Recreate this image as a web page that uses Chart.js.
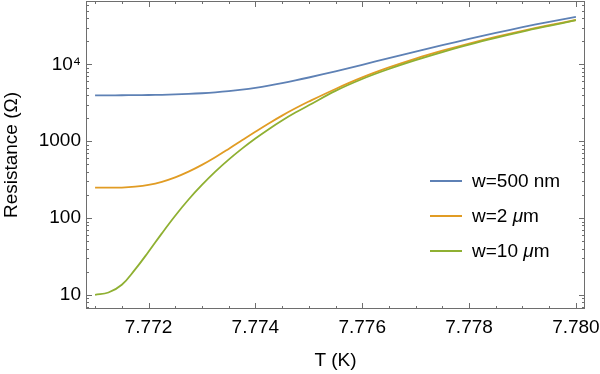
<!DOCTYPE html>
<html>
<head>
<meta charset="utf-8">
<script src="https://cdn.jsdelivr.net/npm/chart.js@4/dist/chart.umd.min.js"></script>
<style>
  html, body { margin: 0; padding: 0; background: #fff; }
  #wrap { width: 600px; height: 374px; }
</style>
</head>
<body>
<div id="wrap"><canvas id="resChart" width="600" height="374"></canvas></div>
<script>
    // Дані
    const temps = [7.771, 7.77125, 7.7715, 7.77175, 7.772, 7.77225, 7.7725, 7.77275, 7.773, 7.77325,
        7.7735, 7.77375, 7.774, 7.77425, 7.7745, 7.77475, 7.775, 7.7755, 7.776, 7.7765,
        7.777, 7.7775, 7.778, 7.7785, 7.779, 7.7795, 7.780];
    const r500nm = [3954, 3957, 3963, 3974, 3992, 4019, 4061, 4123, 4209, 4327,
        4484, 4691, 4956, 5287, 5691, 6176, 6750, 8128, 9886, 12050,
        14655, 17783, 21478, 25704, 30479, 35810, 41687];
    const r2um = [248, 248, 249, 256, 270, 296, 338, 401, 491, 618,
        793, 1026, 1327, 1702, 2153, 2679, 3281, 4786, 6761, 9120,
        11885, 15066, 18707, 22803, 27353, 32359, 37844];
    const r10um = [10, 10.7, 13.5, 21.4, 36.3, 63.1, 107, 174, 269, 401,
        575, 800, 1084, 1435, 1862, 2360, 2931, 4519, 6457, 8710,
        11350, 14454, 18113, 22182, 26730, 31769, 37584];
    const seriesLabels = ['w=500 nm', 'w=2 μm', 'w=10 μm'];
    const seriesColors = ['#5E81B5', '#E19C24', '#8FB032'];
    const xTicks = [7.772, 7.774, 7.776, 7.778, 7.780];
    const yTicks = [10, 100, 1000, 10000];
    const yTickLabels = ['10', '100', '1000', '10⁴'];

    const FONT = '"Liberation Sans", Arial, sans-serif';
    const FSIZE = 19;
    const FRAME = '#6e6e6e';

    function pts(vals) {
        return temps.map((t, i) => ({ x: t, y: vals[i] }));
    }

    // Рамка з внутрішніми поділками (як у Mathematica)
    const frameTicks = {
        id: 'frameTicks',
        afterDatasetsDraw(chart) {
            const { ctx, chartArea: a, scales: { x, y } } = chart;
            ctx.save();
            ctx.strokeStyle = FRAME;
            ctx.lineWidth = 1;
            ctx.strokeRect(a.left + 0.5, a.top + 0.5, a.right - a.left - 1, a.bottom - a.top - 1);
            ctx.beginPath();
            // x: основні і дрібні поділки
            for (let k = 15542; k <= 15560; k++) {
                const v = k * 0.0005;
                const px = Math.round(x.getPixelForValue(v)) + 0.5;
                if (px < a.left || px > a.right) continue;
                const major = xTicks.some(t => Math.abs(t - v) < 1e-7);
                const len = major ? 6 : 3;
                ctx.moveTo(px, a.bottom); ctx.lineTo(px, a.bottom - len);
                ctx.moveTo(px, a.top); ctx.lineTo(px, a.top + len);
            }
            // y: логарифмічні поділки
            for (let d = 0; d <= 4; d++) {
                for (let m = 1; m <= 9; m++) {
                    const v = m * Math.pow(10, d);
                    if (v < y.min || v > y.max) continue;
                    const py = Math.round(y.getPixelForValue(v)) + 0.5;
                    const len = m === 1 ? 6 : 3;
                    ctx.moveTo(a.left, py); ctx.lineTo(a.left + len, py);
                    ctx.moveTo(a.right, py); ctx.lineTo(a.right - len, py);
                }
            }
            ctx.stroke();
            ctx.restore();
        }
    };

    // Легенда всередині графіка
    const insideLegend = {
        id: 'insideLegend',
        afterDraw(chart) {
            const { ctx } = chart;
            const rows = [181, 216, 251];
            ctx.save();
            ctx.textBaseline = 'middle';
            chart.data.datasets.forEach((ds, i) => {
                const yy = rows[i];
                ctx.strokeStyle = ds.borderColor;
                ctx.lineWidth = 2;
                ctx.beginPath();
                ctx.moveTo(430, yy); ctx.lineTo(462, yy);
                ctx.stroke();
                ctx.fillStyle = '#000';
                let xx = 472;
                const parts = ds.label.split('μ');
                parts.forEach((p, j) => {
                    ctx.font = FSIZE + 'px ' + FONT;
                    ctx.fillText(p, xx, yy + 1);
                    xx += ctx.measureText(p).width;
                    if (j < parts.length - 1) {
                        ctx.font = 'italic ' + FSIZE + 'px ' + FONT;
                        ctx.fillText('μ', xx, yy + 1);
                        xx += ctx.measureText('μ').width;
                    }
                });
            });
            ctx.restore();
        }
    };

    const resData = {
        datasets: [
            { label: seriesLabels[0], data: pts(r500nm), borderColor: seriesColors[0], order: 3 },
            { label: seriesLabels[1], data: pts(r2um), borderColor: seriesColors[1], order: 2 },
            { label: seriesLabels[2], data: pts(r10um), borderColor: seriesColors[2], order: 1 }
        ]
    };

    const resConfig = {
        type: 'line',
        data: resData,
        options: {
            responsive: false,
            animation: false,
            layout: { padding: { top: 1, right: 15, left: 0, bottom: 0 } },
            elements: {
                line: { borderWidth: 1.8, tension: 0.4, fill: false },
                point: { radius: 0 }
            },
            plugins: {
                legend: { display: false },
                tooltip: { enabled: false }
            },
            scales: {
                x: {
                    type: 'linear',
                    min: 7.77083,
                    max: 7.78017,
                    grid: { display: false, drawTicks: false },
                    border: { display: false },
                    afterBuildTicks: s => { s.ticks = xTicks.map(v => ({ value: v })); },
                    afterFit: s => { s.height = 65; s.paddingLeft = 0; s.paddingRight = 0; },
                    ticks: {
                        padding: 7,
                        maxRotation: 0,
                        color: '#000',
                        font: { family: FONT, size: FSIZE },
                        callback: v => v.toFixed(3)
                    },
                    title: {
                        display: true,
                        text: 'T (K)',
                        color: '#000',
                        font: { family: FONT, size: FSIZE },
                        padding: { top: 0, bottom: 2 }
                    }
                },
                y: {
                    type: 'logarithmic',
                    min: 6.53,
                    max: 66900,
                    grid: { display: false, drawTicks: false },
                    border: { display: false },
                    afterBuildTicks: s => { s.ticks = yTicks.map(v => ({ value: v })); },
                    afterFit: s => { s.width = 86; s.paddingTop = 0; s.paddingBottom = 0; },
                    ticks: {
                        padding: 5,
                        color: '#000',
                        font: { family: FONT, size: FSIZE },
                        callback: (v) => yTickLabels[yTicks.indexOf(v)]
                    },
                    title: {
                        display: true,
                        text: 'Resistance (Ω)',
                        color: '#000',
                        font: { family: FONT, size: FSIZE },
                        padding: { top: 0, bottom: 0 }
                    }
                }
            }
        },
        plugins: [frameTicks, insideLegend]
    };

    const ctx = document.getElementById('resChart').getContext('2d');
    new Chart(ctx, resConfig);
</script>
</body>
</html>
